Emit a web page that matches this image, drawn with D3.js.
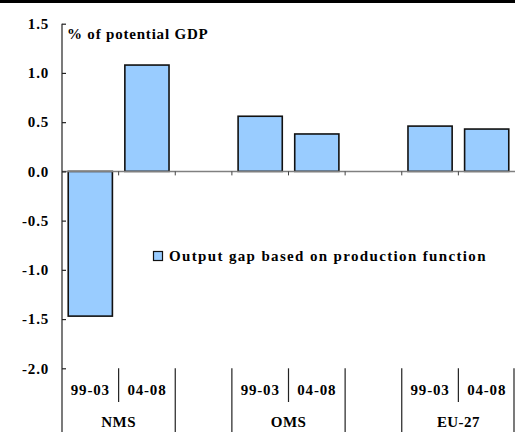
<!DOCTYPE html>
<html><head><meta charset="utf-8">
<script src="https://cdn.jsdelivr.net/npm/d3@7"></script>
<style>
html,body{margin:0;padding:0;background:#fff;}
svg{display:block;}
</style></head>
<body>
<svg id="c" width="515" height="432"></svg>
<script>
const groups = ["NMS", "OMS", "EU-27"];
const periods = ["99-03", "04-08"];
const values = [-1.47, 1.08, 0.56, 0.38, 0.46, 0.43];
const yTicks = [1.5, 1.0, 0.5, 0.0, -0.5, -1.0, -1.5, -2.0];
const seriesName = "Output gap based on production function";
const unitLabel = "% of potential GDP";

const W = 515, H = 432;
const pLeft = 62, pRight = 515, pTop = 23.7, pBottom = 368.3;
const FONT = "'Liberation Serif', 'Times New Roman', serif";
const svg = d3.select("#c");

function styleText(sel, size, ls) {
  return sel.style("font-family", FONT).style("font-weight", "bold")
    .style("font-size", size + "px").style("letter-spacing", ls + "px").style("fill", "#000");
}

// slot keys: group/period, with a blank slot between groups
const slots = [];
groups.forEach((g, gi) => {
  periods.forEach(p => slots.push(g + "|" + p));
  if (gi < groups.length - 1) slots.push("gap" + gi);
});
const bars = [];
groups.forEach((g, gi) => periods.forEach((p, pi) => bars.push({g, p, key: g + "|" + p, v: values[gi * periods.length + pi]})));

const x = d3.scaleBand().domain(slots).range([pLeft, pRight]).padding(0);
const y = d3.scaleLinear().domain([-2, 1.5]).range([pBottom, pTop]);
const step = x.step();

// top rule
svg.append("rect").attr("x", 0).attr("y", 0).attr("width", W).attr("height", 3).attr("fill", "#000");

// bars
svg.append("g").selectAll("rect").data(bars).join("rect")
  .attr("x", d => x(d.key) + step * 0.11)
  .attr("width", step * 0.78)
  .attr("y", d => y(Math.max(0, d.v)))
  .attr("height", d => Math.abs(y(d.v) - y(0)))
  .attr("fill", "#99CCFF").attr("stroke", "#111").attr("stroke-width", 1.6);

// zero line
svg.append("line").attr("x1", pLeft).attr("x2", pRight).attr("y1", y(0)).attr("y2", y(0))
  .attr("stroke", "#808080").attr("stroke-width", 1.5);
// category tick marks on zero line
svg.append("g").selectAll("line").data(slots.slice(1)).join("line")
  .attr("x1", d => x(d)).attr("x2", d => x(d))
  .attr("y1", y(0)).attr("y2", y(0) + 4)
  .attr("stroke", "#444").attr("stroke-width", 1);

// y axis
const yAxis = d3.axisLeft(y).tickValues(yTicks).tickFormat(d => d.toFixed(1)).tickSize(-4).tickPadding(13);
const ga = svg.append("g").attr("transform", `translate(${pLeft},0)`).call(yAxis);
ga.select(".domain").remove();
ga.selectAll(".tick line").attr("stroke", "#222").attr("stroke-width", 1.2);
styleText(ga.selectAll(".tick text"), 15, 0.8).attr("dy", "0.32em");
svg.append("line").attr("x1", pLeft).attr("x2", pLeft).attr("y1", pTop).attr("y2", H)
  .attr("stroke", "#222").attr("stroke-width", 1.2);

// category separators
const sepShort = [];
const sepLong = [];
groups.forEach((g, gi) => {
  sepShort.push(x(g + "|" + periods[1]));
  sepLong.push(x(g + "|" + periods[1]) + step);
  if (gi > 0) sepLong.push(x(g + "|" + periods[0]));
});
svg.append("g").selectAll("line").data(sepShort).join("line")
  .attr("x1", d => d).attr("x2", d => d).attr("y1", pBottom).attr("y2", 402)
  .attr("stroke", "#222").attr("stroke-width", 1.2);
svg.append("g").selectAll("line").data(sepLong).join("line")
  .attr("x1", d => Math.min(d, W - 1)).attr("x2", d => Math.min(d, W - 1)).attr("y1", pBottom).attr("y2", H)
  .attr("stroke", "#222").attr("stroke-width", 1.2);

// period labels
styleText(svg.append("g").selectAll("text").data(bars).join("text")
  .attr("x", d => x(d.key) + step / 2).attr("y", 395)
  .attr("text-anchor", "middle").text(d => d.p), 15, 0.8);
// group labels
styleText(svg.append("g").selectAll("text").data(groups).join("text")
  .attr("x", g => x(g + "|" + periods[0]) + step).attr("y", 427)
  .attr("text-anchor", "middle").text(g => g), 15, 0.4);

// unit label
styleText(svg.append("text").attr("x", 67).attr("y", 39).text(unitLabel), 15, 0.8);

// legend
svg.append("rect").attr("x", 153.5).attr("y", 251.5).attr("width", 9).attr("height", 9)
  .attr("fill", "#99CCFF").attr("stroke", "#111").attr("stroke-width", 1.2);
styleText(svg.append("text").attr("x", 169).attr("y", 261).text(seriesName), 15, 1.35);
</script>
</body></html>
